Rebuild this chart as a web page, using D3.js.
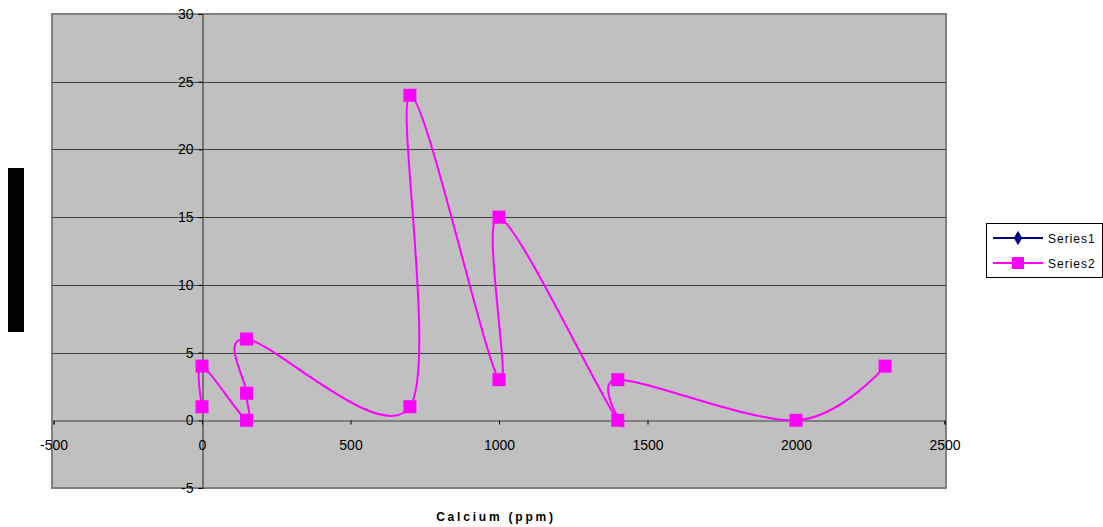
<!DOCTYPE html>
<html>
<head>
<meta charset="utf-8">
<script src="https://cdn.jsdelivr.net/npm/d3@7"></script>
<style>
  body { margin: 0; background: #fff; }
  svg { display: block; font-family: "Liberation Sans", Arial, sans-serif; }
</style>
</head>
<body>
<svg id="svg" width="1103" height="527"></svg>
<script>
    // -- data (order matters: it is a smoothed scatter line)
    var series1X = [];
    var series1Y = [];
    var series2X = [0, 0, 150, 150, 150, 700, 700, 1000, 1000, 1400, 1400, 2000, 2300];
    var series2Y = [1, 4, 0, 2, 6, 1, 24, 3, 15, 0, 3, 0, 4];
    var xTicks = [-500, 0, 500, 1000, 1500, 2000, 2500];
    var yTicks = [-5, 0, 5, 10, 15, 20, 25, 30];
    var seriesNames = ["Series1", "Series2"];
    var seriesColors = ["#000080", "#FF00FF"];

    var svg = d3.select("svg#svg");

    var x = d3.scaleLinear().domain([-500, 2500]).range([53.5, 944.5]);
    var y = d3.scaleLinear().domain([-5, 30]).range([488, 14]);

    // - plot area
    svg.append("rect")
        .attr("x", 52).attr("y", 14)
        .attr("width", 894).attr("height", 474)
        .style("fill", "#C0C0C0")
        .style("stroke", "#808080")
        .style("stroke-width", 2);

    // - horizontal gridlines
    svg.append("g").selectAll("line")
        .data(yTicks.filter(function(d) { return d != -5 && d != 30 && d != 0; }))
        .enter().append("line")
        .attr("x1", 52).attr("x2", 946)
        .attr("y1", function(d) { return Math.round(y(d)) + 0.5; })
        .attr("y2", function(d) { return Math.round(y(d)) + 0.5; })
        .style("stroke", "#404040")
        .style("stroke-width", 1.2);

    // plain hyphen for negatives, like the original
    var plain = function(d) { return String(d); };

    // - y axis, sits at x = 0
    var yAxis = d3.axisLeft(y).tickValues(yTicks).tickSize(4).tickPadding(5).tickFormat(plain);
    var gy = svg.append("g")
        .attr("transform", "translate(" + (Math.round(x(0)) + 0.5) + ",0)")
        .call(yAxis);
    gy.select(".domain").style("stroke", "#404040").style("stroke-width", 1.2);
    gy.selectAll(".tick line").style("stroke", "#000");
    gy.selectAll("text").style("font-size", "14px").style("fill", "#000");

    // - x axis, sits at y = 0
    var xAxis = d3.axisBottom(x).tickValues(xTicks).tickSize(4).tickPadding(16).tickFormat(plain);
    var gx = svg.append("g")
        .attr("transform", "translate(0," + (Math.round(y(0)) + 0.5) + ")")
        .call(xAxis);
    gx.select(".domain").style("stroke", "#404040").style("stroke-width", 1.2);
    gx.selectAll(".tick line").style("stroke", "#000");
    gx.selectAll("text").style("font-size", "14px").style("fill", "#000");

    // - axis titles
    svg.append("text")
        .attr("x", 496).attr("y", 521)
        .attr("text-anchor", "middle")
        .style("font-size", "12px")
        .style("font-weight", "bold")
        .style("letter-spacing", "2.8px")
        .text("Calcium (ppm)");

    // y title came out as a solid black block in the original
    svg.append("rect")
        .attr("x", 8).attr("y", 168)
        .attr("width", 16).attr("height", 164)
        .style("fill", "#000");

    // - series
    var line = d3.line()
        .x(function(d) { return x(d[0]); })
        .y(function(d) { return y(d[1]); })
        .curve(d3.curveCatmullRom.alpha(0));

    var s1 = d3.zip(series1X, series1Y);
    var s2 = d3.zip(series2X, series2Y);

    svg.append("path").datum(s1)
        .attr("d", line)
        .style("fill", "none").style("stroke", seriesColors[0]).style("stroke-width", 2);

    svg.append("path").datum(s2)
        .attr("d", line)
        .style("fill", "none").style("stroke", seriesColors[1]).style("stroke-width", 2);

    svg.append("g").selectAll("rect")
        .data(s2)
        .enter().append("rect")
        .attr("x", function(d) { return x(d[0]) - 6.5; })
        .attr("y", function(d) { return y(d[1]) - 6.5; })
        .attr("width", 13).attr("height", 13)
        .style("fill", seriesColors[1]);

    // - legend
    var legend = svg.append("g");
    legend.append("rect")
        .attr("x", 986.5).attr("y", 223.5)
        .attr("width", 116).attr("height", 54)
        .style("fill", "#fff").style("stroke", "#000").style("stroke-width", 1);

    seriesNames.forEach(function(name, i) {
        var ly = 238 + i * 25;
        legend.append("line")
            .attr("x1", 993).attr("x2", 1043)
            .attr("y1", ly).attr("y2", ly)
            .style("stroke", seriesColors[i]).style("stroke-width", 2);
        if (i == 0) {
            legend.append("path")
                .attr("d", d3.symbol().type(d3.symbolDiamond).size(60))
                .attr("transform", "translate(1018," + ly + ")")
                .style("fill", seriesColors[i]);
        } else {
            legend.append("rect")
                .attr("x", 1018 - 6).attr("y", ly - 6)
                .attr("width", 12).attr("height", 12)
                .style("fill", seriesColors[i]);
        }
        legend.append("text")
            .attr("x", 1048).attr("y", ly + 4.5)
            .style("font-size", "12px")
            .style("letter-spacing", "1px")
            .text(name);
    });
</script>
</body>
</html>
